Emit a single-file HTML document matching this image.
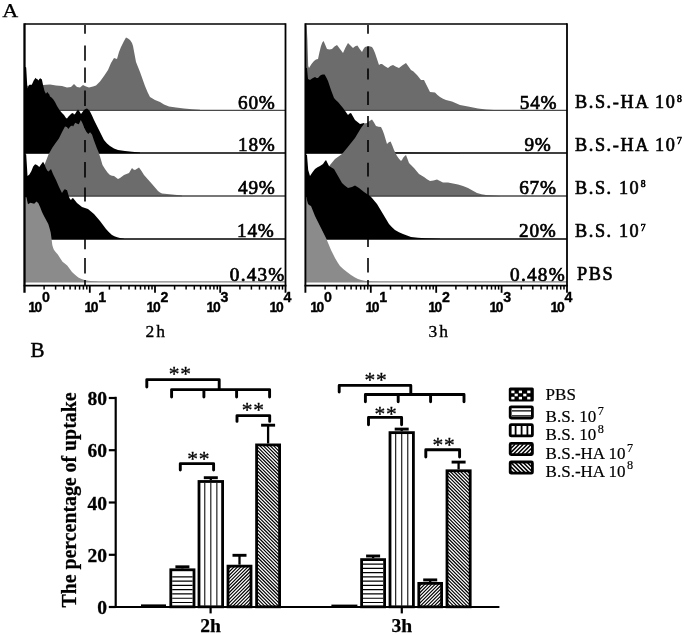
<!DOCTYPE html>
<html lang="en"><head><meta charset="utf-8"><title>Figure</title><style>
html,body{margin:0;padding:0;background:#fff;}
svg{display:block;}
text{font-family:"Liberation Serif",serif;fill:#000;}
.ax{font-family:"Liberation Sans",sans-serif;font-weight:bold;font-size:13.9px;letter-spacing:-1.3px;stroke:#000;stroke-width:0.35px;}
.axs{font-family:"Liberation Sans",sans-serif;font-weight:bold;font-size:14.2px;stroke:#000;stroke-width:0.35px;}
.pc{font-size:19.2px;letter-spacing:0.8px;stroke:#000;stroke-width:0.7px;}
.rl{font-size:18.2px;letter-spacing:1.6px;stroke:#000;stroke-width:0.65px;}
.rls{font-size:9.6px;}
.pl{font-size:21px;stroke:#000;stroke-width:0.45px;}
.tl{font-size:17.5px;letter-spacing:2px;stroke:#000;stroke-width:0.35px;}
.yt{font-size:19.5px;font-weight:bold;stroke:#000;stroke-width:0.3px;}
.xt{font-size:19.6px;font-weight:bold;stroke:#000;stroke-width:0.25px;}
.yl{font-size:20.8px;font-weight:bold;stroke:#000;stroke-width:0.25px;}
.st{font-size:21.5px;letter-spacing:0.8px;stroke:#000;stroke-width:0.3px;}
.lg{font-size:17px;stroke:#000;stroke-width:0.2px;}
.lgs{font-size:12.2px;}
</style></head>
<body>
<svg width="685" height="635" viewBox="0 0 685 635">
<rect width="685" height="635" fill="#fff"/>
<path d="M25.0,110.5 L25.0,86.0 L30.0,85.5 L43.0,85.0 L50.0,84.5 L56.0,85.5 L62.0,86.0 L67.0,87.5 L71.0,87.0 L74.0,84.0 L77.0,87.0 L80.0,87.5 L83.0,85.0 L86.0,86.5 L89.0,87.5 L93.0,86.5 L96.0,85.5 L100.0,81.6 L104.0,76.0 L108.0,70.0 L111.0,63.0 L114.0,58.0 L117.0,59.0 L119.0,52.0 L121.0,47.0 L124.0,41.0 L126.0,37.6 L128.0,38.5 L130.0,40.0 L132.0,43.0 L133.0,46.0 L134.5,54.0 L136.0,62.0 L138.0,67.0 L140.0,72.0 L142.5,79.0 L145.0,86.0 L147.5,92.0 L150.0,97.0 L155.0,100.0 L160.0,102.0 L164.0,104.5 L169.0,106.4 L176.0,107.5 L184.0,108.4 L192.0,109.2 L200.0,109.8 L200.0,110.5 Z" fill="#6c6c6c"/>
<line x1="24.5" y1="110.3" x2="285.5" y2="110.3" stroke="#4a4a4a" stroke-width="1.3"/>
<path d="M24.6,153.3 L24.6,66.5 L26.2,67.5 L26.8,78.0 L27.4,88.5 L28.4,86.5 L29.4,84.8 L31.8,84.8 L33.7,80.6 L35.6,77.7 L36.4,78.9 L37.0,78.7 L38.4,80.6 L39.4,79.0 L40.3,78.2 L41.9,79.6 L43.1,85.3 L44.5,90.9 L45.9,93.8 L47.4,91.9 L48.4,93.6 L49.2,94.2 L50.0,96.5 L51.5,97.5 L53.0,99.0 L55.0,102.0 L57.0,106.0 L59.5,110.0 L62.0,113.0 L64.0,115.0 L66.0,118.0 L67.0,118.5 L68.5,116.5 L70.0,115.0 L71.5,113.5 L73.0,113.0 L74.0,114.5 L75.0,114.0 L76.5,111.5 L78.0,109.6 L79.5,111.5 L81.0,114.0 L82.5,112.0 L84.0,110.0 L85.5,109.0 L87.0,108.6 L88.5,109.8 L90.0,111.6 L92.0,115.5 L94.0,120.0 L96.5,125.0 L99.0,130.0 L101.5,135.0 L104.0,140.0 L107.0,143.5 L110.0,146.0 L114.0,148.5 L118.0,150.0 L125.0,151.0 L132.0,151.8 L140.0,152.4 L140.0,153.3 Z" fill="#000"/>
<line x1="24.5" y1="153.1" x2="285.5" y2="153.1" stroke="#000" stroke-width="1.5"/>
<path d="M36.0,196.2 L36.0,196.0 L38.5,186.0 L41.0,175.0 L43.2,168.0 L45.2,162.9 L48.5,154.4 L52.3,147.8 L55.6,143.1 L58.9,138.4 L62.2,131.7 L65.0,126.5 L66.9,127.0 L68.4,128.9 L70.2,126.5 L72.1,125.6 L73.1,126.5 L75.2,122.8 L77.3,123.7 L78.8,124.2 L80.8,119.9 L82.5,123.2 L84.4,128.0 L86.3,131.7 L88.2,134.1 L90.1,132.2 L92.0,134.6 L93.9,140.2 L96.7,147.8 L98.5,152.0 L100.0,156.5 L102.5,165.0 L105.0,169.0 L107.5,172.5 L110.0,175.0 L112.0,175.8 L114.0,176.0 L116.0,177.6 L118.0,179.0 L120.0,178.0 L122.0,176.5 L124.0,175.0 L126.5,174.0 L129.0,173.0 L130.5,170.5 L132.0,168.0 L133.5,169.5 L135.0,170.0 L137.0,168.8 L139.0,167.6 L141.5,171.0 L144.0,175.0 L148.0,179.5 L152.0,184.0 L155.0,187.5 L158.0,191.0 L160.0,192.6 L162.0,193.6 L167.0,194.1 L172.0,194.4 L177.0,195.0 L182.0,195.6 L182.0,196.2 Z" fill="#6c6c6c"/>
<line x1="24.5" y1="196.0" x2="285.5" y2="196.0" stroke="#4a4a4a" stroke-width="1.3"/>
<path d="M24.6,239.1 L24.6,154.0 L26.2,154.5 L26.8,164.0 L27.5,176.0 L29.4,174.5 L31.3,171.2 L33.2,166.5 L35.1,164.2 L37.0,165.1 L39.3,167.0 L41.2,164.2 L43.1,161.8 L44.5,164.2 L45.9,167.9 L47.4,170.8 L48.6,171.6 L50.0,170.0 L51.0,169.0 L52.0,171.5 L53.0,174.0 L54.5,177.0 L56.0,180.0 L57.5,183.5 L59.0,187.0 L60.5,190.0 L62.0,193.0 L63.5,190.5 L65.0,189.0 L66.0,190.0 L67.0,190.0 L68.0,193.5 L69.0,197.0 L70.0,199.0 L71.0,200.0 L72.0,198.5 L73.0,198.0 L75.0,200.5 L77.0,203.0 L79.5,205.0 L82.0,207.0 L85.0,208.0 L88.0,209.0 L91.0,211.5 L94.0,214.0 L97.0,217.5 L100.0,221.0 L103.0,225.0 L106.0,229.0 L109.0,232.3 L112.0,235.0 L115.0,236.6 L118.0,237.6 L121.0,238.2 L124.0,238.7 L124.0,239.1 Z" fill="#000"/>
<line x1="24.5" y1="238.9" x2="285.5" y2="238.9" stroke="#000" stroke-width="1.5"/>
<path d="M24.6,282.0 L24.6,197.0 L26.5,197.2 L27.2,201.0 L28.0,204.2 L30.4,202.8 L32.3,203.3 L34.2,203.8 L36.5,201.4 L38.4,203.3 L40.3,207.5 L42.0,212.0 L43.6,215.2 L45.2,218.3 L46.8,221.2 L48.3,223.9 L49.5,228.0 L50.7,232.5 L51.5,238.5 L52.3,245.0 L53.1,247.8 L53.9,249.8 L55.8,252.2 L57.8,254.6 L60.2,258.2 L62.5,261.7 L64.8,263.6 L67.2,265.6 L69.6,268.7 L72.0,271.9 L75.0,274.8 L78.3,277.4 L81.5,278.9 L84.6,280.0 L88.5,280.8 L92.4,281.3 L98.0,281.7 L98.0,282.0 Z" fill="#8b8b8b"/>
<line x1="24.5" y1="281.8" x2="285.5" y2="281.8" stroke="#858585" stroke-width="1.3"/>
<line x1="85.0" y1="24.9" x2="85.0" y2="33.7" stroke="#000" stroke-width="1.6"/>
<line x1="85.0" y1="45.4" x2="85.0" y2="60.8" stroke="#000" stroke-width="1.6"/>
<line x1="85.0" y1="67.4" x2="85.0" y2="82.8" stroke="#000" stroke-width="1.6"/>
<line x1="85.0" y1="90.5" x2="85.0" y2="106.0" stroke="#000" stroke-width="1.6"/>
<line x1="85.0" y1="113.5" x2="85.0" y2="128.0" stroke="#000" stroke-width="1.6"/>
<line x1="85.0" y1="140.0" x2="85.0" y2="152.3" stroke="#000" stroke-width="1.6"/>
<line x1="85.0" y1="162.0" x2="85.0" y2="177.6" stroke="#000" stroke-width="1.6"/>
<line x1="85.0" y1="187.5" x2="85.0" y2="201.5" stroke="#000" stroke-width="1.6"/>
<line x1="85.0" y1="211.0" x2="85.0" y2="225.0" stroke="#000" stroke-width="1.6"/>
<line x1="85.0" y1="234.5" x2="85.0" y2="249.2" stroke="#000" stroke-width="1.6"/>
<line x1="85.0" y1="258.0" x2="85.0" y2="273.5" stroke="#000" stroke-width="1.6"/>
<line x1="85.0" y1="280.0" x2="85.0" y2="285.0" stroke="#000" stroke-width="1.6"/>
<path d="M24.5,292.8 V23.3" fill="none" stroke="#000" stroke-width="2.3"/>
<path d="M285.5,292.8 V23.3" fill="none" stroke="#000" stroke-width="1.8"/>
<line x1="24.5" y1="24.0" x2="285.5" y2="24.0" stroke="#000" stroke-width="1.5"/>
<line x1="23.6" y1="285.6" x2="286.4" y2="285.6" stroke="#000" stroke-width="1.8"/>
<line x1="44.1" y1="285.6" x2="44.1" y2="289.6" stroke="#000" stroke-width="1.5"/>
<line x1="55.6" y1="285.6" x2="55.6" y2="289.6" stroke="#000" stroke-width="1.5"/>
<line x1="63.8" y1="285.6" x2="63.8" y2="289.6" stroke="#000" stroke-width="1.5"/>
<line x1="70.1" y1="285.6" x2="70.1" y2="289.6" stroke="#000" stroke-width="1.5"/>
<line x1="75.3" y1="285.6" x2="75.3" y2="289.6" stroke="#000" stroke-width="1.5"/>
<line x1="79.6" y1="285.6" x2="79.6" y2="289.6" stroke="#000" stroke-width="1.5"/>
<line x1="83.4" y1="285.6" x2="83.4" y2="289.6" stroke="#000" stroke-width="1.5"/>
<line x1="86.8" y1="285.6" x2="86.8" y2="289.6" stroke="#000" stroke-width="1.5"/>
<line x1="109.4" y1="285.6" x2="109.4" y2="289.6" stroke="#000" stroke-width="1.5"/>
<line x1="120.9" y1="285.6" x2="120.9" y2="289.6" stroke="#000" stroke-width="1.5"/>
<line x1="129.0" y1="285.6" x2="129.0" y2="289.6" stroke="#000" stroke-width="1.5"/>
<line x1="135.4" y1="285.6" x2="135.4" y2="289.6" stroke="#000" stroke-width="1.5"/>
<line x1="140.5" y1="285.6" x2="140.5" y2="289.6" stroke="#000" stroke-width="1.5"/>
<line x1="144.9" y1="285.6" x2="144.9" y2="289.6" stroke="#000" stroke-width="1.5"/>
<line x1="148.7" y1="285.6" x2="148.7" y2="289.6" stroke="#000" stroke-width="1.5"/>
<line x1="152.0" y1="285.6" x2="152.0" y2="289.6" stroke="#000" stroke-width="1.5"/>
<line x1="89.8" y1="285.6" x2="89.8" y2="292.8" stroke="#000" stroke-width="1.8"/>
<line x1="174.6" y1="285.6" x2="174.6" y2="289.6" stroke="#000" stroke-width="1.5"/>
<line x1="186.1" y1="285.6" x2="186.1" y2="289.6" stroke="#000" stroke-width="1.5"/>
<line x1="194.3" y1="285.6" x2="194.3" y2="289.6" stroke="#000" stroke-width="1.5"/>
<line x1="200.6" y1="285.6" x2="200.6" y2="289.6" stroke="#000" stroke-width="1.5"/>
<line x1="205.8" y1="285.6" x2="205.8" y2="289.6" stroke="#000" stroke-width="1.5"/>
<line x1="210.1" y1="285.6" x2="210.1" y2="289.6" stroke="#000" stroke-width="1.5"/>
<line x1="213.9" y1="285.6" x2="213.9" y2="289.6" stroke="#000" stroke-width="1.5"/>
<line x1="217.3" y1="285.6" x2="217.3" y2="289.6" stroke="#000" stroke-width="1.5"/>
<line x1="155.0" y1="285.6" x2="155.0" y2="292.8" stroke="#000" stroke-width="1.8"/>
<line x1="239.9" y1="285.6" x2="239.9" y2="289.6" stroke="#000" stroke-width="1.5"/>
<line x1="251.4" y1="285.6" x2="251.4" y2="289.6" stroke="#000" stroke-width="1.5"/>
<line x1="259.5" y1="285.6" x2="259.5" y2="289.6" stroke="#000" stroke-width="1.5"/>
<line x1="265.9" y1="285.6" x2="265.9" y2="289.6" stroke="#000" stroke-width="1.5"/>
<line x1="271.0" y1="285.6" x2="271.0" y2="289.6" stroke="#000" stroke-width="1.5"/>
<line x1="275.4" y1="285.6" x2="275.4" y2="289.6" stroke="#000" stroke-width="1.5"/>
<line x1="279.2" y1="285.6" x2="279.2" y2="289.6" stroke="#000" stroke-width="1.5"/>
<line x1="282.5" y1="285.6" x2="282.5" y2="289.6" stroke="#000" stroke-width="1.5"/>
<line x1="220.2" y1="285.6" x2="220.2" y2="292.8" stroke="#000" stroke-width="1.8"/>
<path d="M305.6,110.5 L305.6,26.0 L306.6,25.0 L307.4,40.0 L308.2,66.0 L309.0,68.0 L311.5,64.0 L314.0,61.0 L316.0,59.5 L318.0,59.0 L319.5,52.0 L321.0,46.0 L322.3,42.5 L323.6,41.0 L325.3,45.0 L327.0,49.0 L329.5,49.5 L332.0,49.0 L334.5,46.5 L337.0,45.0 L340.0,49.0 L343.0,53.0 L345.5,47.5 L348.0,43.0 L350.5,45.5 L353.0,48.0 L355.2,46.2 L357.4,45.6 L359.7,49.0 L362.0,52.0 L363.5,49.0 L365.0,47.0 L368.5,46.0 L372.0,47.0 L373.5,49.5 L375.0,53.0 L377.0,59.0 L379.0,65.0 L380.5,64.0 L382.0,64.0 L385.0,66.2 L388.0,68.0 L390.5,66.0 L393.0,65.0 L396.0,66.8 L399.0,68.0 L402.5,65.2 L406.0,63.0 L408.5,66.5 L411.0,70.0 L413.5,71.5 L417.0,75.0 L419.0,77.5 L421.0,80.0 L424.0,80.0 L427.0,86.0 L430.0,92.0 L435.0,92.4 L437.5,95.0 L440.0,97.0 L443.0,98.8 L446.0,100.0 L449.0,100.8 L452.0,101.4 L456.0,103.3 L460.0,105.0 L464.0,105.8 L468.0,106.4 L473.0,107.6 L478.0,108.6 L486.0,109.4 L494.0,110.0 L494.0,110.5 Z" fill="#6c6c6c"/>
<line x1="305.4" y1="110.3" x2="567.0" y2="110.3" stroke="#4a4a4a" stroke-width="1.3"/>
<path d="M305.6,153.3 L305.6,68.0 L307.0,68.0 L308.0,79.0 L310.0,80.0 L312.5,78.3 L315.0,77.0 L316.5,78.0 L318.0,78.0 L319.5,76.3 L321.0,75.0 L322.8,74.5 L324.6,74.4 L326.3,77.5 L328.0,81.0 L329.5,85.5 L331.0,90.0 L332.5,94.0 L334.0,98.0 L336.0,100.3 L338.0,102.0 L340.5,105.0 L343.0,108.0 L345.5,111.5 L348.0,115.0 L349.5,113.6 L351.0,113.0 L353.0,116.5 L355.0,120.0 L357.5,122.0 L360.0,124.0 L362.0,123.6 L364.0,123.0 L368.0,128.0 L372.0,133.0 L378.0,140.0 L384.0,146.0 L390.0,150.5 L395.0,152.4 L420.0,152.8 L460.0,153.0 L460.0,153.3 Z" fill="#000"/>
<line x1="305.4" y1="153.1" x2="567.0" y2="153.1" stroke="#000" stroke-width="1.5"/>
<path d="M318.0,196.2 L318.0,196.0 L321.0,186.0 L324.0,177.0 L327.0,170.0 L330.0,165.0 L332.5,162.0 L335.0,159.0 L338.5,156.5 L342.0,154.0 L344.5,151.0 L347.0,148.0 L351.0,143.0 L355.0,138.0 L358.0,133.0 L361.0,128.0 L362.5,126.0 L364.0,124.0 L365.5,123.3 L367.0,123.0 L369.5,121.0 L372.0,119.6 L374.0,122.5 L376.0,126.0 L378.5,126.8 L381.0,127.0 L382.5,130.0 L384.0,134.0 L385.5,139.0 L387.0,144.0 L388.8,142.3 L390.6,141.6 L392.3,145.5 L394.0,150.0 L395.5,153.0 L397.0,156.0 L399.0,158.7 L401.0,161.0 L402.3,159.5 L403.0,158.0 L404.5,156.2 L406.0,155.0 L407.5,159.0 L409.0,163.0 L411.5,165.6 L414.0,168.0 L416.5,171.0 L419.0,174.0 L421.5,175.6 L424.0,177.0 L427.0,179.2 L430.0,181.0 L433.5,180.4 L437.0,179.6 L440.0,181.0 L443.0,182.4 L448.0,182.4 L453.0,183.4 L458.0,184.4 L463.0,186.0 L468.0,188.0 L472.5,190.5 L477.0,193.0 L481.5,194.2 L486.0,195.0 L493.0,195.6 L500.0,196.0 L500.0,196.2 Z" fill="#6c6c6c"/>
<line x1="305.4" y1="196.0" x2="567.0" y2="196.0" stroke="#4a4a4a" stroke-width="1.3"/>
<path d="M305.6,239.1 L305.6,155.0 L307.0,155.0 L308.2,170.0 L310.0,176.0 L312.5,172.3 L315.0,169.0 L317.5,167.3 L320.0,166.0 L321.5,165.0 L323.0,164.0 L324.5,161.8 L326.0,160.0 L327.5,163.0 L329.0,166.0 L331.5,167.6 L334.0,169.0 L336.0,172.4 L338.0,176.0 L340.0,179.5 L342.0,183.0 L345.0,185.7 L348.0,188.0 L350.0,187.6 L352.0,187.0 L353.5,186.2 L355.0,185.6 L357.0,186.7 L359.0,188.0 L361.5,190.0 L364.0,192.0 L367.0,194.0 L370.0,196.0 L372.0,198.0 L374.5,201.0 L377.0,204.0 L380.0,209.0 L383.0,214.0 L386.0,219.0 L389.0,224.0 L392.0,227.3 L395.0,230.0 L399.0,232.2 L403.0,234.0 L407.0,235.6 L411.0,237.0 L418.0,237.8 L425.0,238.3 L440.0,238.7 L440.0,239.1 Z" fill="#000"/>
<line x1="305.4" y1="238.9" x2="567.0" y2="238.9" stroke="#000" stroke-width="1.5"/>
<path d="M305.6,282.0 L305.6,197.0 L306.4,197.0 L307.2,201.0 L308.0,204.0 L309.5,205.2 L311.0,206.0 L313.0,211.0 L315.0,216.0 L318.0,222.0 L321.0,228.0 L323.5,233.0 L326.0,238.0 L328.5,244.0 L331.0,250.0 L333.0,254.0 L335.0,258.0 L337.5,262.2 L340.0,266.0 L343.5,269.2 L347.0,272.0 L351.0,275.0 L355.0,277.6 L358.0,278.9 L361.0,280.0 L366.0,281.0 L371.0,281.6 L380.0,281.9 L380.0,282.0 Z" fill="#8b8b8b"/>
<line x1="305.4" y1="281.8" x2="567.0" y2="281.8" stroke="#858585" stroke-width="1.3"/>
<line x1="368.0" y1="24.9" x2="368.0" y2="33.7" stroke="#000" stroke-width="1.6"/>
<line x1="368.0" y1="46.5" x2="368.0" y2="57.5" stroke="#000" stroke-width="1.6"/>
<line x1="368.0" y1="68.5" x2="368.0" y2="79.5" stroke="#000" stroke-width="1.6"/>
<line x1="368.0" y1="91.6" x2="368.0" y2="104.9" stroke="#000" stroke-width="1.6"/>
<line x1="368.0" y1="115.9" x2="368.0" y2="127.0" stroke="#000" stroke-width="1.6"/>
<line x1="368.0" y1="140.0" x2="368.0" y2="152.0" stroke="#000" stroke-width="1.6"/>
<line x1="368.0" y1="162.8" x2="368.0" y2="176.5" stroke="#000" stroke-width="1.6"/>
<line x1="368.0" y1="187.5" x2="368.0" y2="200.0" stroke="#000" stroke-width="1.6"/>
<line x1="368.0" y1="211.0" x2="368.0" y2="224.0" stroke="#000" stroke-width="1.6"/>
<line x1="368.0" y1="234.0" x2="368.0" y2="247.0" stroke="#000" stroke-width="1.6"/>
<line x1="368.0" y1="258.0" x2="368.0" y2="272.4" stroke="#000" stroke-width="1.6"/>
<line x1="368.0" y1="280.0" x2="368.0" y2="285.0" stroke="#000" stroke-width="1.6"/>
<path d="M305.4,292.8 V23.3" fill="none" stroke="#000" stroke-width="1.9"/>
<path d="M567.0,292.8 V23.3" fill="none" stroke="#000" stroke-width="1.8"/>
<line x1="305.4" y1="24.0" x2="567.0" y2="24.0" stroke="#000" stroke-width="1.5"/>
<line x1="304.5" y1="285.6" x2="567.9" y2="285.6" stroke="#000" stroke-width="1.8"/>
<line x1="325.1" y1="285.6" x2="325.1" y2="289.6" stroke="#000" stroke-width="1.5"/>
<line x1="336.6" y1="285.6" x2="336.6" y2="289.6" stroke="#000" stroke-width="1.5"/>
<line x1="344.8" y1="285.6" x2="344.8" y2="289.6" stroke="#000" stroke-width="1.5"/>
<line x1="351.1" y1="285.6" x2="351.1" y2="289.6" stroke="#000" stroke-width="1.5"/>
<line x1="356.3" y1="285.6" x2="356.3" y2="289.6" stroke="#000" stroke-width="1.5"/>
<line x1="360.7" y1="285.6" x2="360.7" y2="289.6" stroke="#000" stroke-width="1.5"/>
<line x1="364.5" y1="285.6" x2="364.5" y2="289.6" stroke="#000" stroke-width="1.5"/>
<line x1="367.8" y1="285.6" x2="367.8" y2="289.6" stroke="#000" stroke-width="1.5"/>
<line x1="390.5" y1="285.6" x2="390.5" y2="289.6" stroke="#000" stroke-width="1.5"/>
<line x1="402.0" y1="285.6" x2="402.0" y2="289.6" stroke="#000" stroke-width="1.5"/>
<line x1="410.2" y1="285.6" x2="410.2" y2="289.6" stroke="#000" stroke-width="1.5"/>
<line x1="416.5" y1="285.6" x2="416.5" y2="289.6" stroke="#000" stroke-width="1.5"/>
<line x1="421.7" y1="285.6" x2="421.7" y2="289.6" stroke="#000" stroke-width="1.5"/>
<line x1="426.1" y1="285.6" x2="426.1" y2="289.6" stroke="#000" stroke-width="1.5"/>
<line x1="429.9" y1="285.6" x2="429.9" y2="289.6" stroke="#000" stroke-width="1.5"/>
<line x1="433.2" y1="285.6" x2="433.2" y2="289.6" stroke="#000" stroke-width="1.5"/>
<line x1="370.8" y1="285.6" x2="370.8" y2="292.8" stroke="#000" stroke-width="1.8"/>
<line x1="455.9" y1="285.6" x2="455.9" y2="289.6" stroke="#000" stroke-width="1.5"/>
<line x1="467.4" y1="285.6" x2="467.4" y2="289.6" stroke="#000" stroke-width="1.5"/>
<line x1="475.6" y1="285.6" x2="475.6" y2="289.6" stroke="#000" stroke-width="1.5"/>
<line x1="481.9" y1="285.6" x2="481.9" y2="289.6" stroke="#000" stroke-width="1.5"/>
<line x1="487.1" y1="285.6" x2="487.1" y2="289.6" stroke="#000" stroke-width="1.5"/>
<line x1="491.5" y1="285.6" x2="491.5" y2="289.6" stroke="#000" stroke-width="1.5"/>
<line x1="495.3" y1="285.6" x2="495.3" y2="289.6" stroke="#000" stroke-width="1.5"/>
<line x1="498.6" y1="285.6" x2="498.6" y2="289.6" stroke="#000" stroke-width="1.5"/>
<line x1="436.2" y1="285.6" x2="436.2" y2="292.8" stroke="#000" stroke-width="1.8"/>
<line x1="521.3" y1="285.6" x2="521.3" y2="289.6" stroke="#000" stroke-width="1.5"/>
<line x1="532.8" y1="285.6" x2="532.8" y2="289.6" stroke="#000" stroke-width="1.5"/>
<line x1="541.0" y1="285.6" x2="541.0" y2="289.6" stroke="#000" stroke-width="1.5"/>
<line x1="547.3" y1="285.6" x2="547.3" y2="289.6" stroke="#000" stroke-width="1.5"/>
<line x1="552.5" y1="285.6" x2="552.5" y2="289.6" stroke="#000" stroke-width="1.5"/>
<line x1="556.9" y1="285.6" x2="556.9" y2="289.6" stroke="#000" stroke-width="1.5"/>
<line x1="560.7" y1="285.6" x2="560.7" y2="289.6" stroke="#000" stroke-width="1.5"/>
<line x1="564.0" y1="285.6" x2="564.0" y2="289.6" stroke="#000" stroke-width="1.5"/>
<line x1="501.6" y1="285.6" x2="501.6" y2="292.8" stroke="#000" stroke-width="1.8"/>
<text x="28.2" y="311.9" class="ax">10</text><text x="42.0" y="302.4" class="axs">0</text>
<text x="84.4" y="311.9" class="ax">10</text><text x="98.2" y="302.4" class="axs">1</text>
<text x="146.6" y="311.9" class="ax">10</text><text x="160.4" y="302.4" class="axs">2</text>
<text x="206.6" y="311.9" class="ax">10</text><text x="220.4" y="302.4" class="axs">3</text>
<text x="269.6" y="311.9" class="ax">10</text><text x="283.4" y="302.4" class="axs">4</text>
<text x="310.2" y="311.9" class="ax">10</text><text x="324.0" y="302.4" class="axs">0</text>
<text x="365.4" y="311.9" class="ax">10</text><text x="379.2" y="302.4" class="axs">1</text>
<text x="428.2" y="311.9" class="ax">10</text><text x="442.0" y="302.4" class="axs">2</text>
<text x="489.4" y="311.9" class="ax">10</text><text x="503.2" y="302.4" class="axs">3</text>
<text x="550.6" y="311.9" class="ax">10</text><text x="564.4" y="302.4" class="axs">4</text>
<text x="275.6" y="108.6" class="pc" text-anchor="end" style="letter-spacing:0.80px">60%</text>
<text x="275.6" y="151.4" class="pc" text-anchor="end" style="letter-spacing:0.80px">18%</text>
<text x="275.6" y="194.4" class="pc" text-anchor="end" style="letter-spacing:0.80px">49%</text>
<text x="274.6" y="237.4" class="pc" text-anchor="end" style="letter-spacing:0.80px">14%</text>
<text x="285.6" y="280.6" class="pc" text-anchor="end" style="letter-spacing:1.25px">0.43%</text>
<text x="557.4" y="108.6" class="pc" text-anchor="end" style="letter-spacing:0.80px">54%</text>
<text x="551.6" y="151.4" class="pc" text-anchor="end" style="letter-spacing:0.80px">9%</text>
<text x="556.8" y="194.4" class="pc" text-anchor="end" style="letter-spacing:0.80px">67%</text>
<text x="556.6" y="237.4" class="pc" text-anchor="end" style="letter-spacing:0.80px">20%</text>
<text x="565.9" y="280.6" class="pc" text-anchor="end" style="letter-spacing:1.25px">0.48%</text>
<text x="575" y="108.0" class="rl">B.S.-HA 10<tspan class="rls" dy="-6.2" dx="0.5">8</tspan></text>
<text x="575" y="150.6" class="rl">B.S.-HA 10<tspan class="rls" dy="-6.2" dx="0.5">7</tspan></text>
<text x="575" y="193.6" class="rl">B.S. 10<tspan class="rls" dy="-6.2" dx="0.5">8</tspan></text>
<text x="575" y="237.0" class="rl">B.S. 10<tspan class="rls" dy="-6.2" dx="0.5">7</tspan></text>
<text x="577" y="280.4" class="rl">PBS</text>
<text x="2.2" y="17.2" class="pl" style="font-size:19.4px;stroke-width:0.25px" textLength="16" lengthAdjust="spacingAndGlyphs">A</text>
<text x="30.6" y="357" class="pl">B</text>
<text x="145.6" y="337.4" class="tl">2h</text>
<text x="428.6" y="337.4" class="tl">3h</text>
<defs><pattern id="pd1" width="2.45" height="8" patternUnits="userSpaceOnUse" patternTransform="rotate(45)"><rect width="2.45" height="8" fill="#fff"/><rect x="0.6" width="1.2" height="8" fill="#000"/></pattern><pattern id="pd2" width="2.45" height="8" patternUnits="userSpaceOnUse" patternTransform="rotate(-45)"><rect width="2.45" height="8" fill="#fff"/><rect x="0.6" width="1.2" height="8" fill="#000"/></pattern></defs>
<rect x="141" y="604.4" width="25" height="2.4" fill="#000"/>
<line x1="182.4" y1="568.4" x2="182.4" y2="566.8" stroke="#000" stroke-width="2.3"/><line x1="175.4" y1="566.8" x2="189.4" y2="566.8" stroke="#000" stroke-width="2.9"/><rect x="170.80" y="569.80" width="23.20" height="37.00" fill="none" stroke="#000" stroke-width="2.8"/><path d="M172.2,602.50 H192.6 M172.2,598.23 H192.6 M172.2,593.96 H192.6 M172.2,589.69 H192.6 M172.2,585.42 H192.6 M172.2,581.15 H192.6 M172.2,576.88 H192.6" stroke="#000" stroke-width="1.2" fill="none"/>
<line x1="210.8" y1="480.1" x2="210.8" y2="477.7" stroke="#000" stroke-width="2.3"/><line x1="203.8" y1="477.7" x2="217.8" y2="477.7" stroke="#000" stroke-width="2.9"/><rect x="199.00" y="481.49" width="23.60" height="125.31" fill="none" stroke="#000" stroke-width="2.8"/><path d="M204.75,482.9 V606.8 M210.80,482.9 V606.8 M216.85,482.9 V606.8" stroke="#222" stroke-width="1.2" fill="none"/>
<line x1="239.5" y1="564.7" x2="239.5" y2="555.3" stroke="#000" stroke-width="2.3"/><line x1="232.5" y1="555.3" x2="246.5" y2="555.3" stroke="#000" stroke-width="2.9"/><path d="M228.00,569.59 L231.45,566.14 M228.00,573.04 L234.90,566.14 M228.00,576.49 L238.35,566.14 M228.00,579.94 L241.80,566.14 M228.00,583.39 L245.25,566.14 M228.00,586.84 L248.70,566.14 M228.00,590.29 L251.00,567.29 M228.00,593.74 L251.00,570.74 M228.00,597.19 L251.00,574.19 M228.00,600.64 L251.00,577.64 M228.00,604.09 L251.00,581.09 M228.74,606.80 L251.00,584.54 M232.19,606.80 L251.00,587.99 M235.64,606.80 L251.00,591.44 M239.09,606.80 L251.00,594.89 M242.54,606.80 L251.00,598.34 M245.99,606.80 L251.00,601.79 M249.44,606.80 L251.00,605.24" stroke="#000" stroke-width="1.18" fill="none"/><rect x="228.00" y="566.14" width="23.00" height="40.66" fill="none" stroke="#000" stroke-width="2.8"/>
<line x1="268.1" y1="443.5" x2="268.1" y2="425.2" stroke="#000" stroke-width="2.3"/><line x1="261.1" y1="425.2" x2="275.1" y2="425.2" stroke="#000" stroke-width="2.9"/><path d="M276.15,444.92 L279.60,448.37 M272.70,444.92 L279.60,451.82 M269.25,444.92 L279.60,455.27 M265.80,444.92 L279.60,458.72 M262.35,444.92 L279.60,462.17 M258.90,444.92 L279.60,465.62 M256.60,446.07 L279.60,469.07 M256.60,449.52 L279.60,472.52 M256.60,452.97 L279.60,475.97 M256.60,456.42 L279.60,479.42 M256.60,459.87 L279.60,482.87 M256.60,463.32 L279.60,486.32 M256.60,466.77 L279.60,489.77 M256.60,470.22 L279.60,493.22 M256.60,473.67 L279.60,496.67 M256.60,477.12 L279.60,500.12 M256.60,480.57 L279.60,503.57 M256.60,484.02 L279.60,507.02 M256.60,487.47 L279.60,510.47 M256.60,490.92 L279.60,513.92 M256.60,494.37 L279.60,517.37 M256.60,497.82 L279.60,520.82 M256.60,501.27 L279.60,524.27 M256.60,504.72 L279.60,527.72 M256.60,508.17 L279.60,531.17 M256.60,511.62 L279.60,534.62 M256.60,515.07 L279.60,538.07 M256.60,518.52 L279.60,541.52 M256.60,521.97 L279.60,544.97 M256.60,525.42 L279.60,548.42 M256.60,528.87 L279.60,551.87 M256.60,532.32 L279.60,555.32 M256.60,535.77 L279.60,558.77 M256.60,539.22 L279.60,562.22 M256.60,542.67 L279.60,565.67 M256.60,546.12 L279.60,569.12 M256.60,549.57 L279.60,572.57 M256.60,553.02 L279.60,576.02 M256.60,556.47 L279.60,579.47 M256.60,559.92 L279.60,582.92 M256.60,563.37 L279.60,586.37 M256.60,566.82 L279.60,589.82 M256.60,570.27 L279.60,593.27 M256.60,573.72 L279.60,596.72 M256.60,577.17 L279.60,600.17 M256.60,580.62 L279.60,603.62 M256.60,584.07 L279.33,606.80 M256.60,587.52 L275.88,606.80 M256.60,590.97 L272.43,606.80 M256.60,594.42 L268.98,606.80 M256.60,597.87 L265.53,606.80 M256.60,601.32 L262.08,606.80 M256.60,604.77 L258.63,606.80" stroke="#000" stroke-width="1.18" fill="none"/><rect x="256.60" y="444.92" width="23.00" height="161.88" fill="none" stroke="#000" stroke-width="2.8"/>
<rect x="331.4" y="604.6" width="26" height="2.2" fill="#000"/>
<line x1="373.1" y1="558.2" x2="373.1" y2="556.0" stroke="#000" stroke-width="2.3"/><line x1="366.1" y1="556.0" x2="380.1" y2="556.0" stroke="#000" stroke-width="2.9"/><rect x="361.60" y="559.61" width="23.00" height="47.19" fill="none" stroke="#000" stroke-width="2.8"/><path d="M363.0,602.50 H383.2 M363.0,598.23 H383.2 M363.0,593.96 H383.2 M363.0,589.69 H383.2 M363.0,585.42 H383.2 M363.0,581.15 H383.2 M363.0,576.88 H383.2 M363.0,572.61 H383.2 M363.0,568.34 H383.2 M363.0,564.07 H383.2" stroke="#000" stroke-width="1.2" fill="none"/>
<line x1="401.7" y1="431.2" x2="401.7" y2="429.1" stroke="#000" stroke-width="2.3"/><line x1="394.7" y1="429.1" x2="408.7" y2="429.1" stroke="#000" stroke-width="2.9"/><rect x="390.00" y="432.64" width="23.40" height="174.16" fill="none" stroke="#000" stroke-width="2.8"/><path d="M395.65,434.0 V606.8 M401.70,434.0 V606.8 M407.75,434.0 V606.8" stroke="#222" stroke-width="1.2" fill="none"/>
<line x1="430.2" y1="582.0" x2="430.2" y2="579.9" stroke="#000" stroke-width="2.3"/><line x1="423.2" y1="579.9" x2="437.2" y2="579.9" stroke="#000" stroke-width="2.9"/><path d="M418.80,586.83 L422.25,583.38 M418.80,590.28 L425.70,583.38 M418.80,593.73 L429.15,583.38 M418.80,597.18 L432.60,583.38 M418.80,600.63 L436.05,583.38 M418.80,604.08 L439.50,583.38 M419.53,606.80 L441.60,584.73 M422.98,606.80 L441.60,588.18 M426.43,606.80 L441.60,591.63 M429.88,606.80 L441.60,595.08 M433.33,606.80 L441.60,598.53 M436.78,606.80 L441.60,601.98 M440.23,606.80 L441.60,605.43" stroke="#000" stroke-width="1.18" fill="none"/><rect x="418.80" y="583.38" width="22.80" height="23.42" fill="none" stroke="#000" stroke-width="2.8"/>
<line x1="458.6" y1="469.4" x2="458.6" y2="462.1" stroke="#000" stroke-width="2.3"/><line x1="451.6" y1="462.1" x2="465.6" y2="462.1" stroke="#000" stroke-width="2.9"/><path d="M466.75,470.78 L470.20,474.23 M463.30,470.78 L470.20,477.68 M459.85,470.78 L470.20,481.13 M456.40,470.78 L470.20,484.58 M452.95,470.78 L470.20,488.03 M449.50,470.78 L470.20,491.48 M447.00,471.73 L470.20,494.93 M447.00,475.18 L470.20,498.38 M447.00,478.63 L470.20,501.83 M447.00,482.08 L470.20,505.28 M447.00,485.53 L470.20,508.73 M447.00,488.98 L470.20,512.18 M447.00,492.43 L470.20,515.63 M447.00,495.88 L470.20,519.08 M447.00,499.33 L470.20,522.53 M447.00,502.78 L470.20,525.98 M447.00,506.23 L470.20,529.43 M447.00,509.68 L470.20,532.88 M447.00,513.13 L470.20,536.33 M447.00,516.58 L470.20,539.78 M447.00,520.03 L470.20,543.23 M447.00,523.48 L470.20,546.68 M447.00,526.93 L470.20,550.13 M447.00,530.38 L470.20,553.58 M447.00,533.83 L470.20,557.03 M447.00,537.28 L470.20,560.48 M447.00,540.73 L470.20,563.93 M447.00,544.18 L470.20,567.38 M447.00,547.63 L470.20,570.83 M447.00,551.08 L470.20,574.28 M447.00,554.53 L470.20,577.73 M447.00,557.98 L470.20,581.18 M447.00,561.43 L470.20,584.63 M447.00,564.88 L470.20,588.08 M447.00,568.33 L470.20,591.53 M447.00,571.78 L470.20,594.98 M447.00,575.23 L470.20,598.43 M447.00,578.68 L470.20,601.88 M447.00,582.13 L470.20,605.33 M447.00,585.58 L468.22,606.80 M447.00,589.03 L464.77,606.80 M447.00,592.48 L461.32,606.80 M447.00,595.93 L457.87,606.80 M447.00,599.38 L454.42,606.80 M447.00,602.83 L450.97,606.80 M447.00,606.28 L447.52,606.80" stroke="#000" stroke-width="1.18" fill="none"/><rect x="447.00" y="470.78" width="23.20" height="136.02" fill="none" stroke="#000" stroke-width="2.8"/>
<line x1="115.7" y1="396.8" x2="115.7" y2="608" stroke="#000" stroke-width="2.2"/>
<line x1="114.6" y1="607" x2="499.4" y2="607" stroke="#000" stroke-width="2.1"/>
<line x1="108.8" y1="607.0" x2="115.7" y2="607.0" stroke="#000" stroke-width="2.2"/>
<text x="106.9" y="614.0" class="yt" text-anchor="end">0</text>
<line x1="108.8" y1="554.8" x2="115.7" y2="554.8" stroke="#000" stroke-width="2.2"/>
<text x="106.9" y="561.8" class="yt" text-anchor="end">20</text>
<line x1="108.8" y1="502.5" x2="115.7" y2="502.5" stroke="#000" stroke-width="2.2"/>
<text x="106.9" y="509.5" class="yt" text-anchor="end">40</text>
<line x1="108.8" y1="450.2" x2="115.7" y2="450.2" stroke="#000" stroke-width="2.2"/>
<text x="106.9" y="457.2" class="yt" text-anchor="end">60</text>
<line x1="108.8" y1="398.0" x2="115.7" y2="398.0" stroke="#000" stroke-width="2.2"/>
<text x="106.9" y="405.0" class="yt" text-anchor="end">80</text>
<line x1="210.6" y1="607" x2="210.6" y2="613.4" stroke="#000" stroke-width="2.2"/>
<line x1="401.8" y1="607" x2="401.8" y2="613.4" stroke="#000" stroke-width="2.2"/>
<text x="210.6" y="632" class="xt" text-anchor="middle">2h</text>
<text x="401.8" y="632" class="xt" text-anchor="middle">3h</text>
<text transform="translate(75.6,607.5) rotate(-90)" class="yl" textLength="215" lengthAdjust="spacingAndGlyphs">The percentage of uptake</text>
<path d="M146.8,387 V379.6 H219.2 V389.6" fill="none" stroke="#000" stroke-width="2.9" stroke-linejoin="round" stroke-linecap="round"/>
<path d="M171.6,397 V389.6 H269.6 V397 M203.9,389.6 V397 M236.6,389.6 V397" fill="none" stroke="#000" stroke-width="2.9" stroke-linejoin="round" stroke-linecap="round"/>
<path d="M237,421.4 V415.6 H269.7 V421.4" fill="none" stroke="#000" stroke-width="2.9" stroke-linejoin="round" stroke-linecap="round"/>
<path d="M180.3,470 V463.6 H213.6 V470" fill="none" stroke="#000" stroke-width="2.9" stroke-linejoin="round" stroke-linecap="round"/>
<path d="M339.2,392 V385.4 H410.8 V394.5" fill="none" stroke="#000" stroke-width="2.9" stroke-linejoin="round" stroke-linecap="round"/>
<path d="M365.4,401.8 V394.5 H464 V401.8 M398.2,394.5 V401.8 M430.6,394.5 V401.8" fill="none" stroke="#000" stroke-width="2.9" stroke-linejoin="round" stroke-linecap="round"/>
<path d="M368.5,424.8 V417.4 H401.6 V424.8" fill="none" stroke="#000" stroke-width="2.9" stroke-linejoin="round" stroke-linecap="round"/>
<path d="M425.8,457 V449.8 H459.6 V457" fill="none" stroke="#000" stroke-width="2.9" stroke-linejoin="round" stroke-linecap="round"/>
<text x="180.2" y="380.5" class="st" text-anchor="middle">**</text>
<text x="253.2" y="417.3" class="st" text-anchor="middle">**</text>
<text x="198.8" y="466.3" class="st" text-anchor="middle">**</text>
<text x="376.0" y="387.3" class="st" text-anchor="middle">**</text>
<text x="386.0" y="421.2" class="st" text-anchor="middle">**</text>
<text x="444.0" y="451.8" class="st" text-anchor="middle">**</text>
<rect x="508.8" y="387.5" width="25" height="14" fill="#000" rx="1.5"/>
<rect x="511.3" y="390.6" width="3.2" height="2.6" fill="#fff"/>
<rect x="518.8" y="390.6" width="3.2" height="2.6" fill="#fff"/>
<rect x="527.2" y="390.6" width="3.2" height="2.6" fill="#fff"/>
<rect x="514.6" y="393.7" width="3.2" height="2.6" fill="#fff"/>
<rect x="523.2" y="393.7" width="3.2" height="2.6" fill="#fff"/>
<rect x="511.3" y="396.8" width="3.2" height="2.6" fill="#fff"/>
<rect x="518.8" y="396.8" width="3.2" height="2.6" fill="#fff"/>
<rect x="527.2" y="396.8" width="3.2" height="2.6" fill="#fff"/>
<rect x="510.2" y="406.8" width="22.2" height="11.2" fill="#fff" stroke="#000" stroke-width="2.8" rx="1"/>
<path d="M512,410.9 H531 M512,415.7 H531" stroke="#000" stroke-width="1.1"/>
<rect x="510.2" y="424.7" width="22.2" height="11.2" fill="#fff" stroke="#000" stroke-width="2.8" rx="1"/>
<path d="M515.6,426 V436 M521.6,426 V436 M527.4,426 V436" stroke="#000" stroke-width="1.8"/>
<path d="M511.00,448.30 L515.10,444.20 M511.00,452.40 L519.20,444.20 M513.50,454.00 L523.30,444.20 M517.60,454.00 L527.40,444.20 M521.70,454.00 L531.50,444.20 M525.80,454.00 L531.60,448.20 M529.90,454.00 L531.60,452.30" stroke="#000" stroke-width="1.50" fill="none"/>
<rect x="510.2" y="443.4" width="22.2" height="11.2" fill="none" stroke="#000" stroke-width="2.8" rx="1"/>
<path d="M527.50,462.80 L531.60,466.90 M523.40,462.80 L531.60,471.00 M519.30,462.80 L529.10,472.60 M515.20,462.80 L525.00,472.60 M511.10,462.80 L520.90,472.60 M511.00,466.80 L516.80,472.60 M511.00,470.90 L512.70,472.60" stroke="#000" stroke-width="1.50" fill="none"/>
<rect x="510.2" y="462.0" width="22.2" height="11.2" fill="none" stroke="#000" stroke-width="2.8" rx="1"/>
<text x="545.6" y="400.4" class="lg">PBS</text>
<text x="545.6" y="422.3" class="lg">B.S. 10<tspan class="lgs" dy="-7.2" dx="1.6">7</tspan></text>
<text x="545.6" y="440.3" class="lg">B.S. 10<tspan class="lgs" dy="-7.2" dx="1.6">8</tspan></text>
<text x="545.6" y="458.7" class="lg">B.S.-HA 10<tspan class="lgs" dy="-7.2" dx="1.6">7</tspan></text>
<text x="545.6" y="476.5" class="lg">B.S.-HA 10<tspan class="lgs" dy="-7.2" dx="1.6">8</tspan></text>
</svg>
</body></html>
